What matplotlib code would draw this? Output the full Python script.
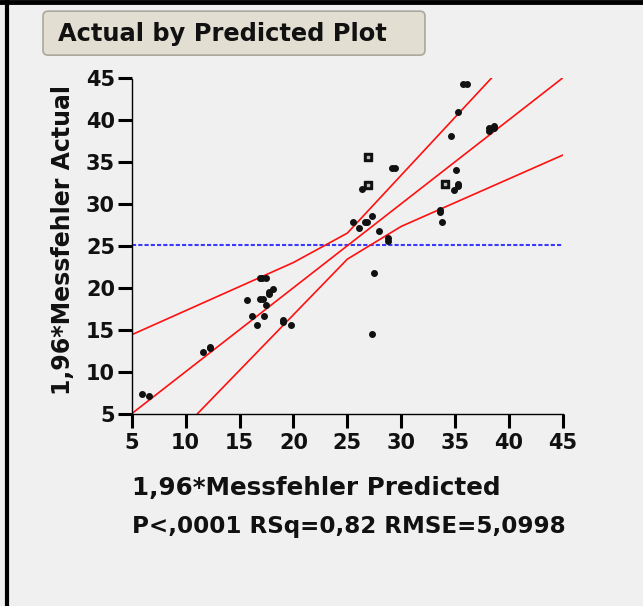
import matplotlib
matplotlib.use("Agg")
import matplotlib.pyplot as plt
from matplotlib.patches import FancyBboxPatch
from matplotlib.lines import Line2D

plt.rcParams['font.family'] = ['DejaVu Sans']

# Messwerte: vorhergesagt / tatsaechlich
pred = [6.0, 6.6, 11.6, 12.3, 12.3, 16.9, 17.1, 17.5, 18.1, 17.7, 17.7, 15.7,
        16.9, 17.2, 17.5, 16.2, 17.3, 16.6, 19.0, 19.0, 19.75, 26.4, 25.5,
        26.05, 26.6, 26.8, 27.3, 27.9, 28.8, 28.8, 29.1, 29.4, 27.5, 27.3,
        35.7, 36.05, 35.3, 34.6, 38.1, 38.1, 38.6, 38.6, 35.1, 35.3, 35.3,
        34.9, 33.6, 33.6, 33.8]
actual = [7.35, 7.1, 12.3, 13.0, 12.8, 21.1, 21.1, 21.1, 19.9, 19.45, 19.2,
          18.5, 18.7, 18.7, 18.0, 16.6, 16.6, 15.6, 16.1, 15.9, 15.6, 31.8,
          27.8, 27.1, 27.8, 27.8, 28.5, 26.8, 25.9, 25.6, 34.2, 34.2, 21.8,
          14.45, 44.2, 44.2, 40.9, 38.0, 39.0, 38.7, 39.2, 39.0, 34.0, 32.3,
          32.1, 31.6, 29.2, 29.0, 27.8]
# markierte Zeilen (Rahmen-Symbol)
pred_sel = [26.9, 26.9, 34.1]
actual_sel = [35.6, 32.2, 32.4]

mean_actual = 25.1
fit_x = [5, 45]
fit_y = [5, 45]
# Konfidenzkurven
upper_x = [5, 20, 25, 38.4]
upper_y = [14.4, 23.0, 26.5, 45]
lower_x = [11.1, 25, 30, 45]
lower_y = [5, 23.4, 27.3, 35.8]

ticks = [5, 10, 15, 20, 25, 30, 35, 40, 45]

bg = '#f0f0f0'
ink = '#111111'
fig = plt.figure(figsize=(6.43, 6.06), dpi=100, facecolor=bg)
ax = fig.add_axes([0.2048, 0.3173, 0.6708, 0.5545], facecolor=bg)

ax.axhline(mean_actual, color='#3a3aff', lw=1.5, ls=(0, (2, 1)))
ax.plot(fit_x, fit_y, color='#ff1010', lw=1.2)
ax.plot(upper_x, upper_y, color='#ff1010', lw=1.2)
ax.plot(lower_x, lower_y, color='#ff1010', lw=1.2)

ax.scatter(pred, actual, s=16, color=ink, marker='o', zorder=3)
ax.scatter(pred_sel, actual_sel, s=36, color=ink, marker='s', zorder=3)
ax.scatter(pred_sel, actual_sel, s=2, color='#bbbbbb', marker='s', zorder=4)

ax.set_xlim(5, 45)
ax.set_ylim(5, 45)
ax.set_xticks(ticks)
ax.set_yticks(ticks)
for s in ['top', 'right']:
    ax.spines[s].set_visible(False)
for s in ['left', 'bottom']:
    ax.spines[s].set_linestyle((0, (1, 1)))
    ax.spines[s].set_linewidth(1.0)
ax.tick_params(direction='out', length=10, width=2.2, labelsize=15)
ax.tick_params(axis='x', pad=4)
ax.tick_params(axis='y', pad=2)
for lab in ax.get_xticklabels() + ax.get_yticklabels():
    lab.set_fontweight('bold')
    lab.set_color(ink)

fig.text(0.0980, 0.604, '1,96*Messfehler Actual', rotation=90, ha='center',
         va='center', fontsize=17, fontweight='bold', color=ink)
fig.text(0.2048, 0.194, '1,96*Messfehler Predicted', ha='left', va='center',
         fontsize=17.7, fontweight='bold', color=ink)
fig.text(0.2048, 0.1305, 'P<,0001 RSq=0,82 RMSE=5,0998', ha='left', va='center',
         fontsize=16.6, fontweight='bold', color=ink)

# Titelkasten
box = FancyBboxPatch((0.0669, 0.909), 0.594, 0.0726, transform=fig.transFigure,
                     boxstyle='round,pad=0,rounding_size=0.008',
                     facecolor='#e2dfd2', edgecolor='#aaa89c', lw=1.2)
fig.patches.append(box)
fig.text(0.0902, 0.9439, 'Actual by Predicted Plot', ha='left', va='center',
         fontsize=17.4, fontweight='bold', color=ink)

# Rahmen oben und links
fig.lines.append(Line2D([0.0109, 0.0109], [0, 1], transform=fig.transFigure,
                        color='black', lw=3))
fig.lines.append(Line2D([0, 1], [0.9965, 0.9965], transform=fig.transFigure,
                        color='black', lw=3.5))

fig.savefig('out.png', dpi=100, facecolor=bg)
